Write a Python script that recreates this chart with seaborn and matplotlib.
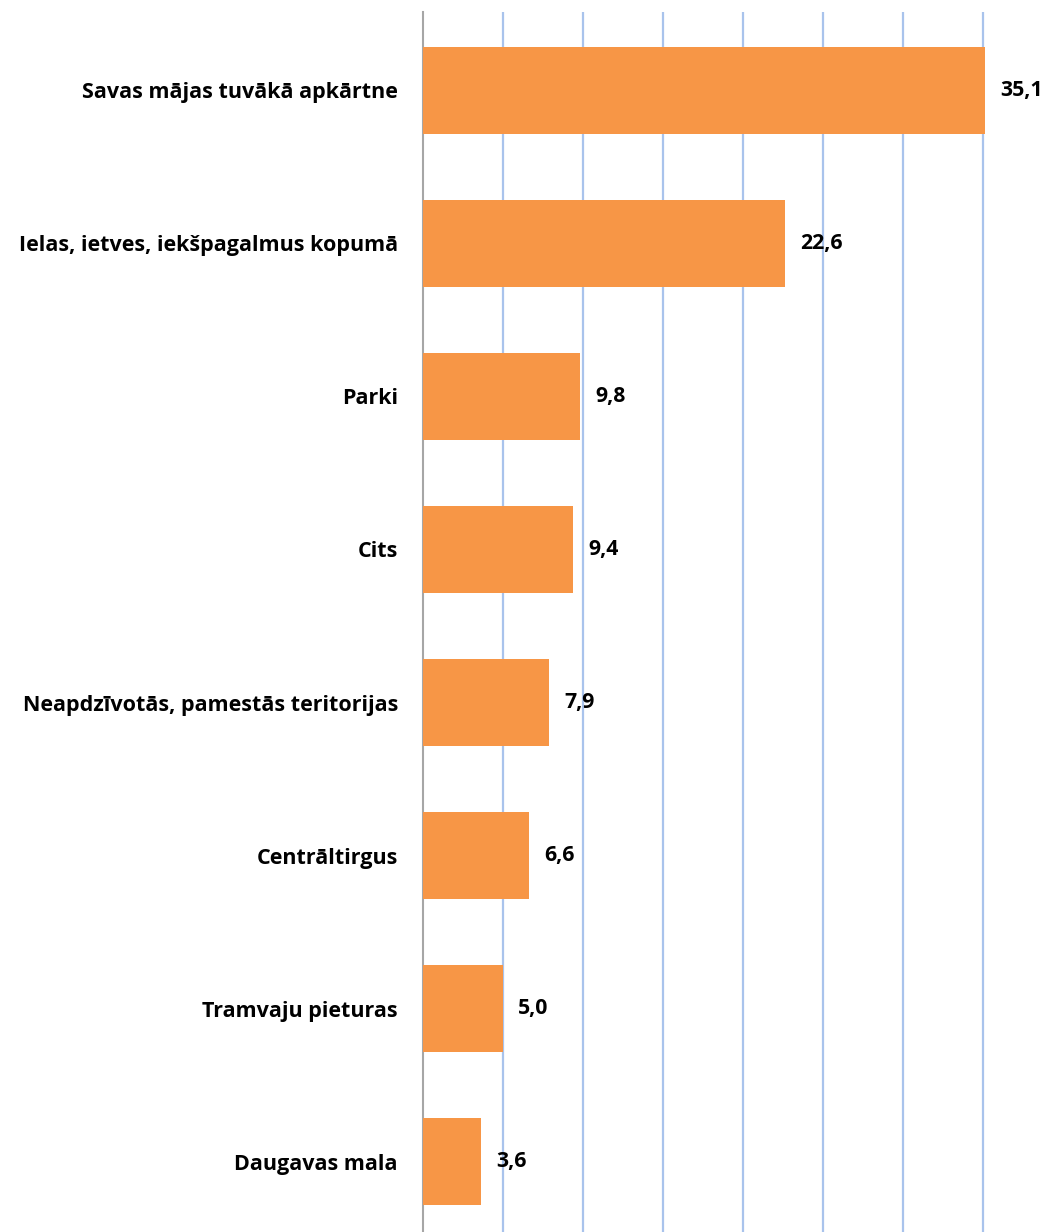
import matplotlib
matplotlib.use("Agg")
import matplotlib.pyplot as plt
import seaborn as sns
import pandas as pd

categories = [
    "Savas mājas tuvākā apkārtne",
    "Ielas, ietves, iekšpagalmus kopumā",
    "Parki",
    "Cits",
    "Neapdzīvotās, pamestās teritorijas",
    "Centrāltirgus",
    "Tramvaju pieturas",
    "Daugavas mala",
]
values = [35.1, 22.6, 9.8, 9.4, 7.9, 6.6, 5.0, 3.6]

df = pd.DataFrame({"vieta": categories, "procenti": values})

sns.set_style("white")
plt.rcParams["font.family"] = ["Open Sans", "DejaVu Sans"]

fig = plt.figure(figsize=(10.54, 12.32), dpi=100)
ax = fig.add_axes([0.4013, 0.0, 0.5987, 0.990])

sns.barplot(data=df, x="procenti", y="vieta", color="#F79646",
            width=0.565, saturation=1, linewidth=0, ax=ax, zorder=3)

ax.set_xlim(0, 39.44)
ax.set_ylim(7.46, -0.51)
ax.set_xticks([5, 10, 15, 20, 25, 30, 35])
ax.xaxis.grid(True, color="#A9C3EC", linewidth=1.6, zorder=0)
ax.set_axisbelow(True)
ax.tick_params(axis="x", length=0, labelbottom=False)
ax.tick_params(axis="y", length=0, pad=18)
for lab in ax.get_yticklabels():
    lab.set_fontsize(15.5)
    lab.set_fontweight("bold")
    lab.set_color("#000000")
ax.set_xlabel("")
ax.set_ylabel("")
for s in ["top", "right", "bottom"]:
    ax.spines[s].set_visible(False)
ax.spines["left"].set_color("#A6A6A6")
ax.spines["left"].set_linewidth(1.5)

for i, v in enumerate(values):
    ax.text(v + 0.95, i, f"{v:.1f}".replace(".", ","), va="center", ha="left",
            fontsize=15.3, fontweight="bold", color="#000000")

fig.savefig("out.png", dpi=100)
